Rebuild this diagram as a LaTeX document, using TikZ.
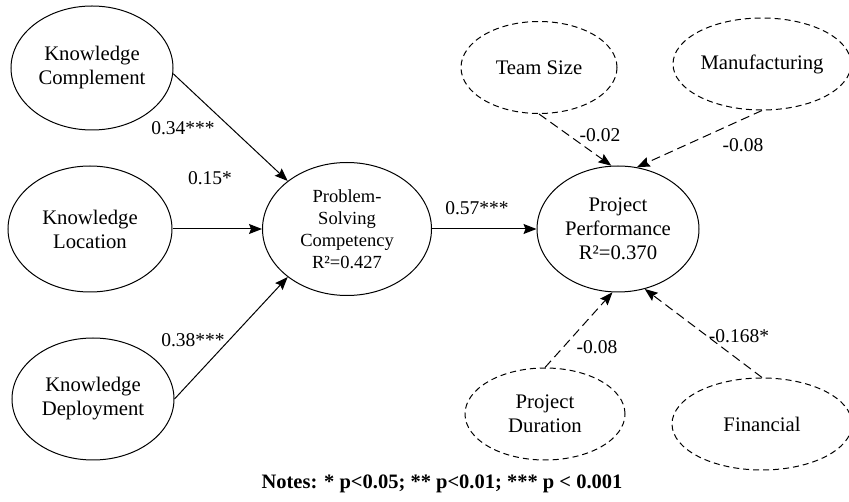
\documentclass[tikz,border=0pt]{standalone}
\usepackage{fontspec}
\setmainfont{Liberation Serif}
\usetikzlibrary{shapes.geometric,arrows.meta}
\begin{document}
\begin{tikzpicture}[x=1pt,y=-1pt,
  latent/.style={ellipse,draw,line width=1pt,inner sep=0pt,align=center,
    minimum width=162pt,minimum height=124pt,font=\fontsize{20.7}{24}\selectfont},
  control/.style={latent,dash pattern=on 6pt off 4pt,minimum height=92pt},
  effect/.style={line width=1pt,-{Stealth[length=13pt,width=10pt,inset=2pt]}},
  ctrleffect/.style={effect,dash pattern=on 9pt off 5pt},
  coef/.style={font=\fontsize{19.5}{22}\selectfont,inner sep=0pt}]
\useasboundingbox (0,0) rectangle (849,502);

% constructs
\node[latent] (KC) at (92,68) {Knowledge\\Complement};
\node[latent,minimum width=164pt,minimum height=126pt] (KL) at (90,229) {Knowledge\\Location};
\node[latent,minimum height=122pt] (KD) at (93,399) {Knowledge\\Deployment};
\node[latent,minimum width=169pt,minimum height=133pt,font=\fontsize{18.5}{22}\selectfont] (PS) at (347,229)
  {Problem-\\Solving\\Competency\\R²=0.427};
\node[latent,minimum height=126pt] (PP) at (618,229) {Project\\Performance\\R²=0.370};

% control variables
\node[control,minimum width=156pt] (TS) at (539,67.5) {Team Size};
\node[control,minimum width=178pt] (MF) at (762,64) {Manufacturing};
\node[control,minimum width=160pt] (PD) at (545,414) {Project\\Duration};
\node[control,minimum width=180pt] (FN) at (762,424) {Financial};

% structural paths
\draw[effect] (KC.-4) -- (PS.141);
\draw[effect] (KL.east) -- (PS.west);
\draw[effect] (KD.east) -- (PS.219);
\draw[effect] (PS.east) -- (PP.west);

% control paths
\draw[ctrleffect] (TS.south) -- (PP.96);
\draw[ctrleffect] (MF.south) -- (PP.73);
\draw[ctrleffect] (PD.north) -- (PP.265);
\draw[ctrleffect] (FN.north) -- (PP.294);

% path coefficients
\node[coef] (c1) at (183,128) {0.34***};
\node[coef] (c2) at (210,178) {0.15*};
\node[coef] (c3) at (193,340) {0.38***};
\node[coef] (c4) at (477,208) {0.57***};
\node[coef] (c5) at (600,135) {-0.02};
\node[coef] (c6) at (743,145) {-0.08};
\node[coef] (c7) at (597,347) {-0.08};
\node[coef] (c8) at (739,336) {-0.168*};

% significance notes
\node[font=\bfseries\fontsize{20.5}{24}\selectfont,inner sep=0pt] (notes) at (442,484)
  {Notes: * p<0.05; ** p<0.01; *** p < 0.001};
\end{tikzpicture}
\end{document}
